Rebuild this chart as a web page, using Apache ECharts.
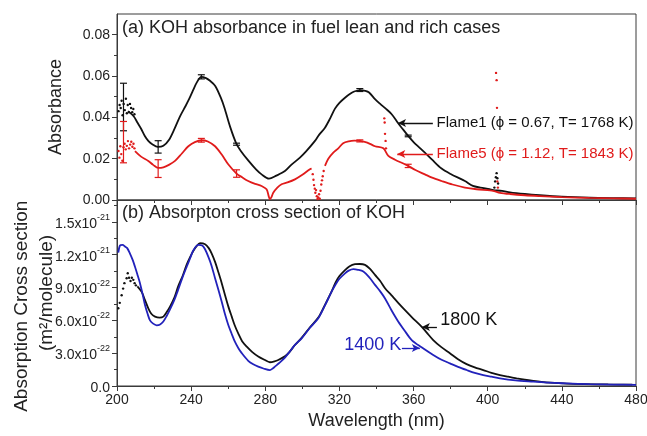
<!DOCTYPE html>
<html>
<head>
<meta charset="utf-8">
<script src="https://cdn.jsdelivr.net/npm/echarts@6/dist/echarts.min.js"></script>
<style>
  html, body { margin: 0; padding: 0; background: #fff; }
  #chart { width: 647px; height: 436px; }
</style>
</head>
<body>
<div id="chart"></div>
<script>
// ---------- axis ticks ----------
const waveTicks = [200, 240, 280, 320, 360, 400, 440, 480];
const absTicks = [0, 0.02, 0.04, 0.06, 0.08];
const absMinorTicks = [0.01, 0.03, 0.05, 0.07];
const absMax = 0.09;
// cross section values are in units of 1e-22 m^2/molecule
const crossTicks = [0, 3, 6, 9, 12, 15];
const crossMinorTicks = [1.5, 4.5, 7.5, 10.5, 13.5, 16.5];
const crossMax = 17;

// ---------- (a) absorbance ----------
const flame1Wave = [206, 209, 211, 213, 215, 217, 219, 222, 225, 228, 231, 234, 237, 239, 241, 243, 245.5, 248, 250, 253, 256, 258, 261, 264.5, 267, 271, 275, 278, 282, 286, 290.6, 294, 298.7, 302, 306.8, 309, 312.2, 315, 317.6, 320, 323, 326, 328, 331, 334, 336, 339.2, 342, 345, 348.2, 351.6, 354, 357.1, 360, 363, 366.1, 370, 375.1, 380, 387.7, 392, 396, 401, 403, 407.7, 412, 420, 428, 440, 455, 468, 480];
const flame1Abs = [0.043, 0.0405, 0.0375, 0.0345, 0.031, 0.0285, 0.027, 0.0257, 0.0262, 0.029, 0.0344, 0.0405, 0.0455, 0.049, 0.053, 0.0568, 0.0596, 0.059, 0.0578, 0.0552, 0.0495, 0.0445, 0.0355, 0.027, 0.0235, 0.0189, 0.0148, 0.0124, 0.0103, 0.0118, 0.014, 0.017, 0.0205, 0.0235, 0.0286, 0.0315, 0.035, 0.0395, 0.0442, 0.047, 0.0495, 0.0515, 0.0525, 0.0532, 0.0528, 0.052, 0.0488, 0.0465, 0.0442, 0.0415, 0.0373, 0.0345, 0.031, 0.028, 0.0255, 0.0229, 0.0195, 0.0152, 0.0126, 0.0092, 0.0068, 0.006, 0.0052, 0.0048, 0.0044, 0.0037, 0.0029, 0.0023, 0.0016, 0.0011, 0.0009, 0.0008];
// noisy short-wavelength points and the 405 nm line
const flame1DotWave = [200.8, 201.4, 202, 202.5, 203, 203.6, 204.2, 204.8, 205.3, 205.8, 206.4, 207, 207.6, 208.2, 208.8, 209.4, 403.6, 404, 404.4, 404.8, 405.2, 405.6];
const flame1DotAbs = [0.043, 0.046, 0.0445, 0.048, 0.041, 0.0465, 0.0435, 0.049, 0.042, 0.046, 0.0425, 0.0465, 0.0445, 0.0425, 0.044, 0.0415, 0.006, 0.009, 0.011, 0.013, 0.0105, 0.008];

const flame5Wave = [209.7, 213, 216.9, 219.5, 222.2, 225, 228, 231.3, 235, 238.5, 242, 245.7, 249, 252.9, 256.5, 260, 264.5, 267.5, 270.8, 274.5, 278, 280.7, 281.8, 282.5, 283.4, 284.3, 286.5, 288.8, 292, 296, 300, 304.1, 305, 305.5, 312.2, 314, 316.7, 319.4, 322, 325, 328, 331, 335, 339.2, 343.7, 346.4, 350, 355.3, 357.1, 361, 366.1, 370, 375.1, 381, 387.7, 394, 401.2, 403.5, 406.6, 412, 420, 428, 440, 455, 468, 480];
const flame5Abs = [0.0237, 0.021, 0.0189, 0.017, 0.0155, 0.0158, 0.017, 0.0189, 0.0225, 0.026, 0.028, 0.0289, 0.0283, 0.026, 0.022, 0.0173, 0.0128, 0.011, 0.0092, 0.0078, 0.0068, 0.0052, 0.002, 0.0003, 0.0015, 0.0035, 0.006, 0.0076, 0.0085, 0.01, 0.0122, 0.0149, 0.0152, null, 0.0165, 0.02, 0.0229, 0.025, 0.0275, 0.0284, 0.0287, 0.0286, 0.0278, 0.026, 0.025, 0.0213, 0.0195, 0.0173, 0.0165, 0.0145, 0.0124, 0.0108, 0.0092, 0.0075, 0.006, 0.0052, 0.0047, 0.0043, 0.0035, 0.0029, 0.0023, 0.0019, 0.0014, 0.001, 0.0008, 0.0006];
const flame5DotWave = [200.8, 201.3, 201.8, 202.3, 202.9, 203.5, 204.1, 204.7, 205.3, 205.9, 206.5, 207.1, 207.7, 208.3, 208.9, 209.4,
  305.6, 306, 306.3, 306.7, 307, 307.4, 307.8, 308.2, 308.6, 309, 309.4, 309.8, 310.2, 310.6, 311, 311.5,
  344.2, 344.4, 344.6, 344.9, 345.1,
  404.5, 404.8, 405, 405.2, 405.5];
const flame5DotAbs = [0.0237, 0.0205, 0.026, 0.0222, 0.019, 0.0255, 0.0272, 0.0245, 0.0262, 0.0285, 0.025, 0.0268, 0.0282, 0.0258, 0.0272, 0.025,
  0.0125, 0.0098, 0.0072, 0.0055, 0.0035, 0.0048, 0.0018, 0.0005, 0.0012, 0.0028, 0.0006, 0.0045, 0.0075, 0.0095, 0.0115, 0.014,
  0.0395, 0.0375, 0.032, 0.0286, 0.025,
  0.0615, 0.058, 0.0446, 0.009, 0.006];

// error bars: centre and half-width
const errWave = [203.5, 222.2, 245.5, 264.5, 331, 357.1];
const flame1ErrMid = [0.045, 0.0257, 0.0596, 0.027, 0.0532, 0.031];
const flame1ErrHalf = [0.0115, 0.003, 0.001, 0.0005, 0.0007, 0.0004];
const flame5ErrMid = [0.028, 0.0152, 0.0289, 0.0128, 0.0286, 0.0165];
const flame5ErrHalf = [0.010, 0.0043, 0.0009, 0.0018, 0.0005, 0.0008];

// ---------- (b) cross section (1e-22 m^2/molecule) ----------
const k1800Wave = [211, 213.3, 215, 216.9, 218.5, 220.5, 223, 225, 227, 228.6, 231, 233, 235.5, 237.6, 239.5, 241.2, 243, 244.8, 247.5, 249.5, 251.1, 253, 254.6, 256.5, 258.3, 260, 261.9, 263.5, 265.4, 267.5, 270, 273, 276.2, 279.5, 282.5, 285, 287, 290.6, 293, 296, 299.6, 304, 308.6, 312, 315.8, 318, 320, 323, 325.5, 328.4, 331, 333.8, 336.5, 339.2, 342, 344.6, 348, 351.7, 355, 359, 364.3, 367, 370.6, 375, 379.6, 384, 388.6, 393, 397.6, 402, 406.6, 411, 415.6, 420, 424.6, 429, 433.6, 442.5, 452, 465, 478];
const k1800Cross = [9.1, 8.6, 7.9, 7.1, 6.6, 6.34, 6.25, 6.34, 6.8, 7.25, 8.1, 9.1, 10.1, 11.1, 11.8, 12.35, 12.8, 13.05, 12.96, 12.6, 12.1, 11.3, 10.45, 9.4, 8.3, 7.3, 6.34, 5.55, 4.8, 4.1, 3.6, 3.1, 2.7, 2.4, 2.17, 2.25, 2.38, 2.72, 3.1, 3.75, 4.4, 5.35, 6.25, 7.35, 8.65, 9.5, 10.05, 10.6, 10.95, 11.13, 11.15, 11.07, 10.7, 10.15, 9.6, 8.94, 8.3, 7.6, 7.0, 6.3, 5.43, 4.9, 4.2, 3.55, 3.0, 2.45, 2.0, 1.7, 1.46, 1.2, 1.0, 0.85, 0.7, 0.57, 0.46, 0.37, 0.3, 0.21, 0.17, 0.14, 0.12];
const k1800DotWave = [200.7, 201.5, 202.5, 203.3, 204, 205.2, 205.8, 206.5, 207.3, 208, 208.8, 209.5, 210.2];
const k1800DotCross = [7.1, 7.6, 8.3, 8.9, 9.4, 9.85, 10.3, 9.9, 9.6, 9.9, 9.7, 9.4, 9.2];

const k1400Wave = [200.7, 201.6, 203, 204.3, 205.5, 207, 208.5, 209.7, 211, 212.4, 213.8, 215.1, 216.5, 217.8, 219.5, 221.4, 223, 225, 226.8, 228.6, 231, 233, 235.3, 237.6, 239.5, 241.2, 243.9, 246, 247.5, 249.3, 251, 252.9, 254.7, 256.5, 258.2, 260, 261.8, 263.6, 265.5, 267.3, 270.8, 273.5, 276.2, 279, 282.5, 284, 285.2, 287.5, 290.6, 293, 296, 299.6, 304, 308.6, 312, 315.8, 318, 320, 323, 325, 327.5, 330, 332.9, 336, 339.2, 342, 344.6, 348, 351.7, 355, 359, 364.3, 370.6, 375.1, 379.6, 384, 388.6, 393, 397.6, 402, 406.6, 415, 424.6, 433, 442.5, 455, 468, 480];
const k1400Cross = [12.2, 12.84, 12.9, 12.75, 12.6, 12.1, 11.5, 10.9, 10.2, 9.4, 8.4, 7.4, 6.6, 6.0, 5.7, 5.55, 5.6, 5.9, 6.4, 7.0, 7.9, 8.8, 9.9, 10.9, 11.7, 12.4, 12.9, 12.84, 12.5, 11.8, 11.0, 9.85, 8.8, 7.7, 6.6, 5.6, 4.8, 4.05, 3.45, 3.0, 2.3, 1.98, 1.77, 1.6, 1.46, 1.6, 1.77, 2.1, 2.6, 3.1, 3.75, 4.36, 5.3, 6.2, 7.3, 8.63, 9.3, 9.8, 10.3, 10.55, 10.68, 10.62, 10.46, 9.95, 9.24, 8.65, 8.0, 6.95, 5.9, 5.1, 4.2, 3.54, 2.84, 2.4, 2.07, 1.75, 1.46, 1.2, 1.0, 0.85, 0.7, 0.52, 0.4, 0.3, 0.24, 0.17, 0.13, 0.11];

// ---------- text ----------
const titleA = '(a) KOH absorbance in fuel lean and rich cases';
const titleB = '(b) Absorpton cross section of KOH';
const flame1Label = 'Flame1 (\u03d5 = 0.67, T= 1768 K)';
const flame5Label = 'Flame5 (\u03d5 = 1.12, T= 1843 K)';
const k1800Label = '1800 K';
const k1400Label = '1400 K';

// ---------- styling ----------
const FONT = '"Liberation Sans", Arial, Helvetica, sans-serif';
const BLACK = '#111111';
const RED = '#e01b1b';
const BLUE = '#2222bb';
const AXIS = '#3a3a3a';
const TEXT = '#222222';

const zip = (xs, ys) => xs.map((x, i) => [x, ys[i] === null ? '-' : ys[i]]);
const zip3 = (xs, ys, es) => xs.map((x, i) => [x, ys[i], es[i]]);

const GRID_LEFT = 117, GRID_RIGHT = 11;
const grids = [
  { left: GRID_LEFT, right: GRID_RIGHT, top: 14, height: 186, show: true, borderColor: AXIS, borderWidth: 1,
    containLabel: false, outerBoundsMode: 'none' },
  { left: GRID_LEFT, right: GRID_RIGHT, top: 200, height: 186, show: true, borderColor: AXIS, borderWidth: 1,
    containLabel: false, outerBoundsMode: 'none' }
];

function xAxisFor(gridIndex, withLabels) {
  return {
    type: 'value', gridIndex,
    min: waveTicks[0], max: waveTicks[waveTicks.length - 1],
    interval: waveTicks[1] - waveTicks[0],
    axisLine: { show: true, onZero: false, lineStyle: { color: AXIS, width: 1 } },
    axisTick: { show: true, inside: false, length: 5, lineStyle: { color: AXIS } },
    minorTick: { show: true, splitNumber: 2, length: 3, lineStyle: { color: AXIS } },
    splitLine: { show: false },
    axisLabel: { show: withLabels, color: TEXT, fontSize: 14, fontFamily: FONT, margin: 7 },
    name: withLabels ? 'Wavelength (nm)' : '',
    nameLocation: 'middle', nameGap: 26, nameMoveOverlap: false,
    nameTextStyle: { color: TEXT, fontSize: 18, fontFamily: FONT }
  };
}

function crossLabel(v) {
  if (v === 0) return '{m|0.0}';
  const exp = v >= 10 ? -21 : -22;
  const mant = v >= 10 ? v / 10 : v;
  return '{m|' + mant.toFixed(1) + 'x10}{e|' + exp + '}';
}

const yAxes = [
  // (a) major ticks + labels
  {
    type: 'value', gridIndex: 0, min: 0, max: absMax,
    axisLine: { show: true, lineStyle: { color: AXIS } },
    axisTick: { show: true, length: 5, customValues: absTicks, lineStyle: { color: AXIS } },
    axisLabel: { show: true, customValues: absTicks, formatter: v => v.toFixed(2), color: TEXT, fontSize: 14, fontFamily: FONT, margin: 7 },
    splitLine: { show: false },
    name: 'Absorbance', nameLocation: 'middle', nameGap: 52, nameMoveOverlap: false,
    nameTextStyle: { color: TEXT, fontSize: 18, fontFamily: FONT }
  },
  // (a) minor ticks
  {
    type: 'value', gridIndex: 0, min: 0, max: absMax, position: 'left',
    axisLine: { show: false },
    axisTick: { show: true, length: 3, customValues: absMinorTicks, lineStyle: { color: AXIS } },
    axisLabel: { show: false }, splitLine: { show: false }
  },
  // (b) major ticks + labels
  {
    type: 'value', gridIndex: 1, min: 0, max: crossMax,
    axisLine: { show: true, lineStyle: { color: AXIS } },
    axisTick: { show: true, length: 5, customValues: crossTicks, lineStyle: { color: AXIS } },
    axisLabel: {
      show: true, customValues: crossTicks, formatter: crossLabel, margin: 7,
      rich: {
        m: { color: TEXT, fontSize: 14, fontFamily: FONT, lineHeight: 18, verticalAlign: 'bottom' },
        e: { color: TEXT, fontSize: 9, fontFamily: FONT, lineHeight: 18, verticalAlign: 'top' }
      }
    },
    splitLine: { show: false },
    name: 'Absorption Cross section     \n(m\u00b2/molecule)', nameLocation: 'middle', nameGap: 58, nameMoveOverlap: false,
    nameTextStyle: { color: TEXT, fontSize: 19, fontFamily: FONT, lineHeight: 25 }
  },
  // (b) minor ticks
  {
    type: 'value', gridIndex: 1, min: 0, max: crossMax, position: 'left',
    axisLine: { show: false },
    axisTick: { show: true, length: 3, customValues: crossMinorTicks, lineStyle: { color: AXIS } },
    axisLabel: { show: false }, splitLine: { show: false }
  }
];

function lineSeries(name, data, color, xi, yi, extra) {
  return Object.assign({
    name, type: 'line', xAxisIndex: xi, yAxisIndex: yi, data,
    showSymbol: false, smooth: 0.3, connectNulls: false,
    lineStyle: { color, width: 1.8 }, itemStyle: { color },
    animation: false, silent: true
  }, extra || {});
}

function dotSeries(name, data, color, xi, yi) {
  return {
    name, type: 'scatter', xAxisIndex: xi, yAxisIndex: yi, data,
    symbol: 'circle', symbolSize: 2.4, itemStyle: { color, opacity: 1 },
    animation: false, silent: true
  };
}

function errorSeries(name, data, color) {
  return {
    name, type: 'custom', xAxisIndex: 0, yAxisIndex: 0, data,
    encode: { x: 0, y: 1 }, animation: false, silent: true, z: 5,
    renderItem(params, api) {
      const x = api.value(0), y = api.value(1), e = api.value(2);
      const hi = api.coord([x, y + e]);
      const lo = api.coord([x, y - e]);
      const w = 3.5;
      const st = { stroke: color, lineWidth: 1.2 };
      return {
        type: 'group',
        children: [
          { type: 'line', shape: { x1: hi[0], y1: hi[1], x2: lo[0], y2: lo[1] }, style: st },
          { type: 'line', shape: { x1: hi[0] - w, y1: hi[1], x2: hi[0] + w, y2: hi[1] }, style: st },
          { type: 'line', shape: { x1: lo[0] - w, y1: lo[1], x2: lo[0] + w, y2: lo[1] }, style: st }
        ]
      };
    }
  };
}

// pointer arrow from the label to its curve
function arrowMark(from, to, color) {
  return {
    silent: true, animation: false,
    symbol: ['none', 'arrow'], symbolSize: [6, 8],
    lineStyle: { color, width: 1.3, type: 'solid', opacity: 1 },
    label: { show: false },
    data: [[{ coord: from }, { coord: to }]]
  };
}

// curve label anchored at a data position
function textMark(name, at, text, color, fontSize, side, xi, yi) {
  return {
    name, type: 'scatter', xAxisIndex: xi, yAxisIndex: yi,
    data: [at], symbolSize: 0, silent: true, animation: false, z: 10,
    itemStyle: { opacity: 1 },
    label: {
      show: true, position: side, distance: 0, formatter: text,
      color, fontSize, fontFamily: FONT, opacity: 1
    }
  };
}

const series = [
  // (a)
  lineSeries('Flame1', zip(flame1Wave, flame1Abs), BLACK, 0, 0, {
    markLine: arrowMark([370.4, 0.0373], [351.6, 0.0373], BLACK)
  }),
  dotSeries('Flame1 points', zip(flame1DotWave, flame1DotAbs), BLACK, 0, 0),
  lineSeries('Flame5', zip(flame5Wave, flame5Abs), RED, 0, 0, {
    markLine: arrowMark([370.4, 0.0223], [351.2, 0.0223], RED)
  }),
  dotSeries('Flame5 points', zip(flame5DotWave, flame5DotAbs), RED, 0, 0),
  errorSeries('Flame1 error', zip3(errWave, flame1ErrMid, flame1ErrHalf), BLACK),
  errorSeries('Flame5 error', zip3(errWave, flame5ErrMid, flame5ErrHalf), RED),
  textMark('Flame1 label', [372.4, 0.0373], flame1Label, BLACK, 15, 'right', 0, 0),
  textMark('Flame5 label', [372.4, 0.0223], flame5Label, RED, 15, 'right', 0, 0),
  // (b)
  lineSeries('1800 K', zip(k1800Wave, k1800Cross), BLACK, 1, 2, {
    markLine: arrowMark([372.6, 5.4], [364.5, 5.4], BLACK)
  }),
  dotSeries('1800 K points', zip(k1800DotWave, k1800DotCross), BLACK, 1, 2),
  lineSeries('1400 K', zip(k1400Wave, k1400Cross), BLUE, 1, 2, {
    markLine: arrowMark([353.7, 3.48], [363.4, 3.48], BLUE)
  }),
  textMark('1800 K label', [374.4, 6.0], k1800Label, BLACK, 18, 'right', 1, 2),
  textMark('1400 K label', [353.4, 3.75], k1400Label, BLUE, 18, 'left', 1, 2)
];

const chart = echarts.init(document.getElementById('chart'), null, { renderer: 'canvas' });
chart.setOption({
  backgroundColor: '#ffffff',
  animation: false,
  grid: grids,
  xAxis: [xAxisFor(0, false), xAxisFor(1, true)],
  yAxis: yAxes,
  series,
  graphic: [
    { type: 'text', left: 122, top: 19, style: { text: titleA, fill: TEXT, font: '18px ' + FONT } },
    { type: 'text', left: 122, top: 204, style: { text: titleB, fill: TEXT, font: '18px ' + FONT } }
  ]
});
</script>
</body>
</html>
